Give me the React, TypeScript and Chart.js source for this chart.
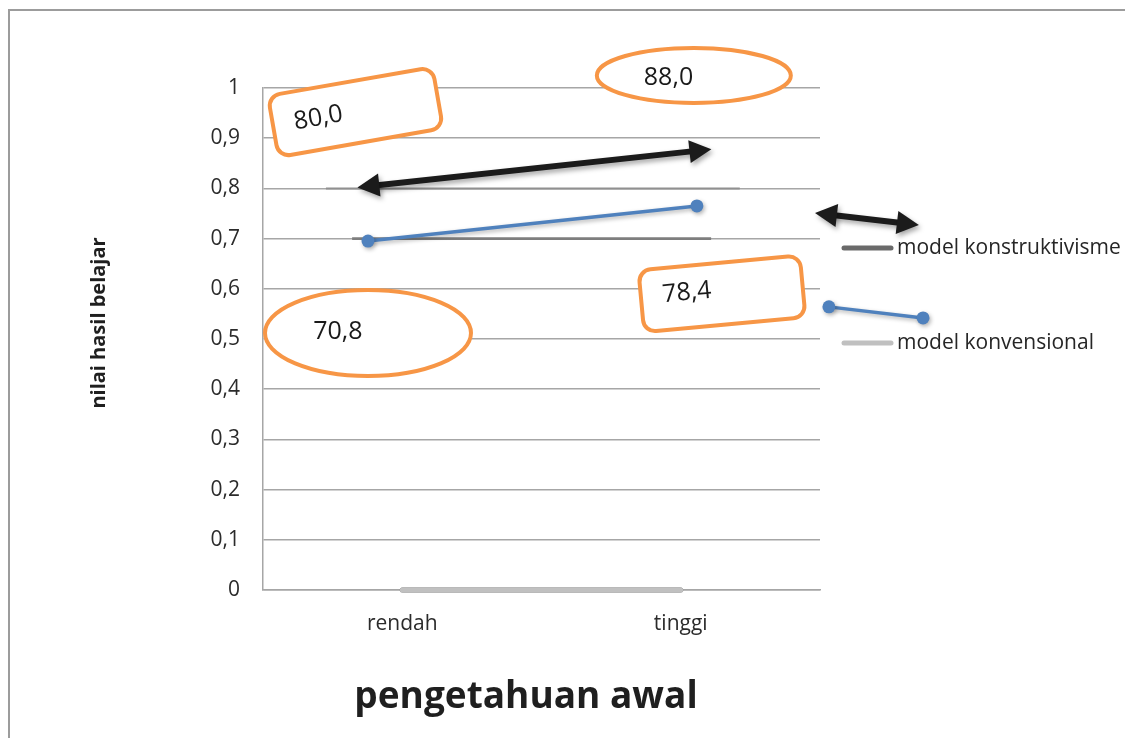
import React, { useEffect, useRef } from 'react';
import { Chart, registerables } from 'chart.js';

Chart.register(...registerables);

// ---- data ----
const categories = ['rendah', 'tinggi'];
const seriesNames = ['model konstruktivisme', 'model konvensional'];
const konstruktivismeValues = [0, 0];
const konvensionalValues = [0, 0];
const yTickLabels = ['0', '0,1', '0,2', '0,3', '0,4', '0,5', '0,6', '0,7', '0,8', '0,9', '1'];
const xAxisTitle = 'pengetahuan awal';
const yAxisTitle = 'nilai hasil belajar';

// ---- overlay annotations, in data space (x = category index, y = axis value) ----
const blueLineA = [{ x: -0.123, y: 0.695 }, { x: 1.058, y: 0.765 }];
const blueLineB = [{ x: 1.532, y: 0.564 }, { x: 1.87, y: 0.542 }];
const arrowA = [{ x: -0.161, y: 0.802 }, { x: 1.11, y: 0.878 }];
const arrowB = [{ x: 1.482, y: 0.751 }, { x: 1.855, y: 0.727 }];
const calloutTexts = ['80,0', '88,0', '70,8', '78,4'];
const calloutAnchors = [
  { x: -0.168, y: 0.952 },
  { x: 1.047, y: 1.025 },
  { x: -0.123, y: 0.512 },
  { x: 1.148, y: 0.59 },
];
const calloutTextAnchors = [
  { x: -0.301, y: 0.94 },
  { x: 0.956, y: 1.02 },
  { x: -0.231, y: 0.515 },
  { x: 1.022, y: 0.592 },
];
const shadeSegmentsX = [[-0.18, 1.109], [-0.274, 1.212]];
const shadeSegmentsY = [0.7, 0.8];

// ---- styles ----
const FONT = "'Open Sans', sans-serif";
const GRID = '#a6a6a6';
const ORANGE = '#F79646';
const BLUE = '#4F81BD';
const calloutShapes = [
  { kind: 'rect', w: 167, h: 62, angle: -9.9, r: 12 },
  { kind: 'ellipse', rx: 97, ry: 27.5 },
  { kind: 'ellipse', rx: 103, ry: 43 },
  { kind: 'rect', w: 162, h: 62, angle: -5.3, r: 12 },
];
const shadeStyles = [
  { color: '#7e7e7e', width: 2.8 },
  { color: '#909090', width: 2 },
];

function drawDoubleArrow(ctx: CanvasRenderingContext2D, a: any, b: any, shaft: number, headLen: number, headHalf: number) {
  const ang = Math.atan2(b.y - a.y, b.x - a.x);
  const ux = Math.cos(ang);
  const uy = Math.sin(ang);
  const nx = -uy;
  const ny = ux;
  ctx.lineWidth = shaft;
  ctx.lineCap = 'butt';
  ctx.beginPath();
  ctx.moveTo(a.x + ux * headLen * 0.8, a.y + uy * headLen * 0.8);
  ctx.lineTo(b.x - ux * headLen * 0.8, b.y - uy * headLen * 0.8);
  ctx.stroke();
  const heads = [
    { tip: a, d: 1 },
    { tip: b, d: -1 },
  ];
  heads.forEach(({ tip, d }) => {
    const bx = tip.x + ux * headLen * d;
    const by = tip.y + uy * headLen * d;
    ctx.beginPath();
    ctx.moveTo(tip.x, tip.y);
    ctx.lineTo(bx + nx * headHalf, by + ny * headHalf);
    ctx.lineTo(bx - nx * headHalf, by - ny * headHalf);
    ctx.closePath();
    ctx.fill();
  });
}

const frameAndOverlay = {
  id: 'frameAndOverlay',
  beforeDraw(chart: any) {
    const ctx = chart.ctx;
    ctx.save();
    ctx.strokeStyle = '#9c9c9c';
    ctx.lineWidth = 2;
    ctx.beginPath();
    ctx.moveTo(1, chart.height);
    ctx.lineTo(1, 2);
    ctx.lineTo(chart.width, 2);
    ctx.stroke();
    ctx.restore();
  },
  afterDraw(chart: any) {
    const ctx: CanvasRenderingContext2D = chart.ctx;
    const xs = chart.scales.x;
    const ys = chart.scales.y;
    const area = chart.chartArea;
    const P = (p: any) => ({ x: xs.getPixelForValue(p.x), y: ys.getPixelForValue(p.y) });

    ctx.save();
    // darker gridline segments (shadows of the overlay shapes)
    shadeSegmentsY.forEach((v, i) => {
      const y = ys.getPixelForValue(v);
      ctx.strokeStyle = shadeStyles[i].color;
      ctx.lineWidth = shadeStyles[i].width;
      ctx.beginPath();
      ctx.moveTo(xs.getPixelForValue(shadeSegmentsX[i][0]), y);
      ctx.lineTo(xs.getPixelForValue(shadeSegmentsX[i][1]), y);
      ctx.stroke();
    });

    // callouts
    calloutTexts.forEach((txt, i) => {
      const s: any = calloutShapes[i];
      const c = P(calloutAnchors[i]);
      const t = P(calloutTextAnchors[i]);
      ctx.save();
      ctx.translate(c.x, c.y);
      ctx.beginPath();
      if (s.kind === 'rect') {
        ctx.rotate((s.angle * Math.PI) / 180);
        ctx.roundRect(-s.w / 2, -s.h / 2, s.w, s.h, s.r);
      } else {
        ctx.ellipse(0, 0, s.rx, s.ry, 0, 0, Math.PI * 2);
      }
      ctx.fillStyle = '#ffffff';
      ctx.fill();
      ctx.strokeStyle = ORANGE;
      ctx.lineWidth = 4;
      ctx.stroke();
      ctx.restore();

      ctx.save();
      ctx.translate(t.x, t.y);
      if (s.kind === 'rect') ctx.rotate((s.angle * Math.PI) / 180);
      ctx.font = `25px ${FONT}`;
      ctx.fillStyle = '#1a1a1a';
      ctx.textAlign = 'center';
      ctx.textBaseline = 'middle';
      ctx.fillText(txt, 0, 0);
      ctx.restore();
    });

    // blue connector lines with markers
    [blueLineA, blueLineB].forEach((seg) => {
      const a = P(seg[0]);
      const b = P(seg[1]);
      ctx.save();
      ctx.shadowColor = 'rgba(0,0,0,0.3)';
      ctx.shadowBlur = 4;
      ctx.shadowOffsetX = 1.5;
      ctx.shadowOffsetY = 2;
      ctx.strokeStyle = BLUE;
      ctx.fillStyle = BLUE;
      ctx.lineWidth = 3.5;
      ctx.beginPath();
      ctx.moveTo(a.x, a.y);
      ctx.lineTo(b.x, b.y);
      ctx.stroke();
      [a, b].forEach((p) => {
        ctx.beginPath();
        ctx.arc(p.x, p.y, 6.5, 0, Math.PI * 2);
        ctx.fill();
      });
      ctx.restore();
    });

    // black double arrows
    [arrowA, arrowB].forEach((seg) => {
      ctx.save();
      ctx.shadowColor = 'rgba(0,0,0,0.35)';
      ctx.shadowBlur = 5;
      ctx.shadowOffsetX = 2;
      ctx.shadowOffsetY = 3;
      ctx.strokeStyle = '#1b1b1b';
      ctx.fillStyle = '#1b1b1b';
      drawDoubleArrow(ctx, P(seg[0]), P(seg[1]), 6, 22, 11.5);
      ctx.restore();
    });

    // legend
    const lx = area.right + 22;
    const rows = [area.top + 160, area.top + 255];
    chart.data.datasets.forEach((ds: any, i: number) => {
      ctx.strokeStyle = ds.borderColor;
      ctx.lineWidth = 5;
      ctx.lineCap = 'round';
      ctx.beginPath();
      ctx.moveTo(lx + 2, rows[i]);
      ctx.lineTo(lx + 49, rows[i]);
      ctx.stroke();
      ctx.font = `21px ${FONT}`;
      ctx.fillStyle = '#262626';
      ctx.textAlign = 'left';
      ctx.textBaseline = 'middle';
      ctx.fillText(ds.label, lx + 55, rows[i]);
    });

    // axis titles
    ctx.fillStyle = '#1f1f1f';
    ctx.font = `bold 37px ${FONT}`;
    ctx.textAlign = 'center';
    ctx.textBaseline = 'alphabetic';
    ctx.fillText(xAxisTitle, (area.left + area.right) / 2 - 15.5, area.bottom + 118);

    ctx.save();
    ctx.translate(area.left - 158, (area.top + area.bottom) / 2 - 16);
    ctx.rotate(-Math.PI / 2);
    ctx.font = `bold 20px ${FONT}`;
    ctx.fillText(yAxisTitle, 0, 0);
    ctx.restore();

    ctx.restore();
  },
};

export default function App() {
  const ref = useRef<HTMLCanvasElement | null>(null);

  useEffect(() => {
    document.documentElement.style.overflow = 'hidden';
    document.body.style.overflow = 'hidden';
    if (!ref.current) return;
    Chart.defaults.font.family = FONT;
    const chart = new Chart(ref.current, {
      type: 'line',
      data: {
        labels: categories,
        datasets: [
          {
            label: seriesNames[0],
            data: konstruktivismeValues,
            borderColor: '#6a6a6a',
            backgroundColor: '#6a6a6a',
            borderWidth: 5,
            borderCapStyle: 'round',
            pointRadius: 0,
            clip: false,
            order: 1,
          },
          {
            label: seriesNames[1],
            data: konvensionalValues,
            borderColor: '#c0c0c0',
            backgroundColor: '#c0c0c0',
            borderWidth: 5,
            borderCapStyle: 'round',
            pointRadius: 0,
            clip: false,
            order: 0,
          },
        ],
      },
      options: {
        animation: false,
        responsive: true,
        maintainAspectRatio: false,
        layout: { padding: { top: 80, right: 313, left: 0, bottom: 0 } },
        plugins: {
          legend: { display: false },
          tooltip: { enabled: false },
        },
        scales: {
          x: {
            type: 'category',
            offset: true,
            grid: { display: false, drawTicks: false },
            border: { display: true, color: GRID, width: 1.5 },
            ticks: { font: { size: 21 }, color: '#2b2b2b', padding: 21 },
            afterFit: (scale: any) => {
              scale.height = 148;
            },
          },
          y: {
            min: 0,
            max: 1,
            grid: { color: GRID, lineWidth: 1.5, drawTicks: false },
            border: { display: true, color: GRID, width: 1.5 },
            ticks: {
              stepSize: 0.1,
              font: { size: 21 },
              color: '#2b2b2b',
              padding: 23,
              callback: (_v: any, i: number) => yTickLabels[i],
            },
            afterFit: (scale: any) => {
              scale.width = 255;
            },
          },
        },
      } as any,
      plugins: [frameAndOverlay],
    });
    return () => chart.destroy();
  }, []);

  return (
    <div style={{ position: 'relative', width: 1125, height: 730 }}>
      <canvas ref={ref} />
    </div>
  );
}
